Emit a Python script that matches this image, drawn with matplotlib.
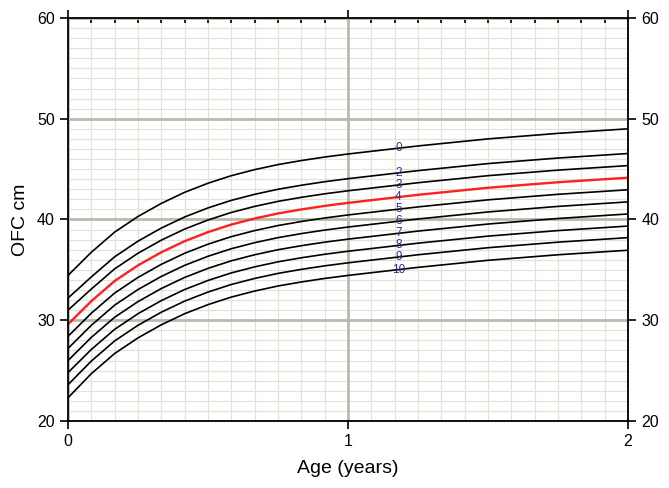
import numpy as np
import matplotlib
matplotlib.use("Agg")
import matplotlib.pyplot as plt
from matplotlib.ticker import MultipleLocator

plt.rcParams['font.family'] = ['Liberation Sans', 'DejaVu Sans']

# Age in months (converted to years for plotting)
age_months = [0, 1, 2, 3, 4, 5, 6, 7, 8, 9, 10, 11, 12, 15, 18, 21, 24]

# OFC curves (cm), labelled as on the chart
curve_labels = ["0", "2", "3", "4", "5", "6", "7", "8", "9", "10"]
c0  = [34.45, 36.75, 38.75, 40.3, 41.6, 42.7, 43.6, 44.35, 44.95, 45.45, 45.85, 46.2, 46.5, 47.3, 48.0, 48.55, 49.0]
c2  = [32.2, 34.3, 36.3, 37.85, 39.15, 40.25, 41.15, 41.9, 42.5, 43.0, 43.4, 43.75, 44.05, 44.85, 45.55, 46.1, 46.55]
c3  = [31.0, 33.1, 35.1, 36.65, 37.95, 39.05, 39.95, 40.7, 41.3, 41.8, 42.2, 42.55, 42.85, 43.65, 44.35, 44.9, 45.35]
c4  = [29.6, 31.9, 33.9, 35.45, 36.75, 37.85, 38.75, 39.5, 40.1, 40.6, 41.0, 41.35, 41.65, 42.45, 43.15, 43.7, 44.15]
c5  = [28.4, 30.7, 32.7, 34.25, 35.55, 36.65, 37.55, 38.3, 38.9, 39.4, 39.8, 40.15, 40.45, 41.25, 41.95, 42.5, 42.95]
c6  = [27.2, 29.5, 31.5, 33.05, 34.35, 35.45, 36.35, 37.1, 37.7, 38.2, 38.6, 38.95, 39.25, 40.05, 40.75, 41.3, 41.75]
c7  = [26.0, 28.3, 30.3, 31.85, 33.15, 34.25, 35.15, 35.9, 36.5, 37.0, 37.4, 37.75, 38.05, 38.85, 39.55, 40.1, 40.55]
c8  = [24.8, 27.1, 29.1, 30.65, 31.95, 33.05, 33.95, 34.7, 35.3, 35.8, 36.2, 36.55, 36.85, 37.65, 38.35, 38.9, 39.35]
c9  = [23.6, 25.95, 27.95, 29.5, 30.8, 31.9, 32.8, 33.55, 34.15, 34.65, 35.05, 35.4, 35.7, 36.5, 37.2, 37.75, 38.2]
c10 = [22.3, 24.7, 26.7, 28.25, 29.55, 30.65, 31.55, 32.3, 32.9, 33.4, 33.8, 34.15, 34.45, 35.25, 35.95, 36.5, 36.95]
curves = [c0, c2, c3, c4, c5, c6, c7, c8, c9, c10]
highlight = "4"
label_age = 1.18

x_ticks = [0, 1, 2]
y_ticks = [20, 30, 40, 50, 60]

ages = np.array(age_months) / 12.0

fig = plt.figure(figsize=(6.69, 4.88), dpi=100)
ax = fig.add_axes([68/669, 67/488, 560/669, 403/488])

ax.set_xlim(0, 2)
ax.set_ylim(20, 60)
ax.xaxis.set_major_locator(MultipleLocator(1))
ax.xaxis.set_minor_locator(MultipleLocator(1/12))
ax.yaxis.set_major_locator(MultipleLocator(10))
ax.yaxis.set_minor_locator(MultipleLocator(1))

# minor grid from the axis; major grid drawn on top so it stays continuous
ax.grid(which='minor', color='#e2e2da', linewidth=0.9)
ax.grid(which='major', visible=False)
ax.set_axisbelow(True)
for xv in x_ticks:
    ax.axvline(xv, color='#b9b9ac', linewidth=2.0, zorder=1)
for yv in y_ticks:
    ax.axhline(yv, color='#b9b9ac', linewidth=2.0, zorder=1)

for lab, vals in zip(curve_labels, curves):
    if lab == highlight:
        ax.plot(ages, vals, color='#ff2020', linewidth=1.7, zorder=3)
    else:
        ax.plot(ages, vals, color='black', linewidth=1.2, zorder=3)
    yl = np.interp(label_age, ages, vals)
    ax.text(label_age, yl, lab, color='#2e3192', fontsize=8.5,
            ha='center', va='center', zorder=4)

for s in ax.spines.values():
    s.set_color('black')
    s.set_linewidth(1.3)
    s.set_zorder(5)

ax.set_xticks(x_ticks)
ax.set_yticks(y_ticks)
ax.tick_params(axis='both', which='major', direction='out', length=6, width=1.2,
               labelsize=11.5, colors='black')
ax.tick_params(axis='y', which='both', right=True, labelright=True)
ax.tick_params(axis='y', which='minor', length=0)
ax.tick_params(axis='x', which='minor', bottom=False, top=True, direction='in',
               length=3.5, width=1.2)
ax.tick_params(axis='x', which='major', top=True, labeltop=False)

ax.set_xlabel('Age (years)', fontsize=14, labelpad=8)
ax.set_ylabel('OFC cm', fontsize=14, labelpad=6)

fig.savefig('out.png', dpi=100)
